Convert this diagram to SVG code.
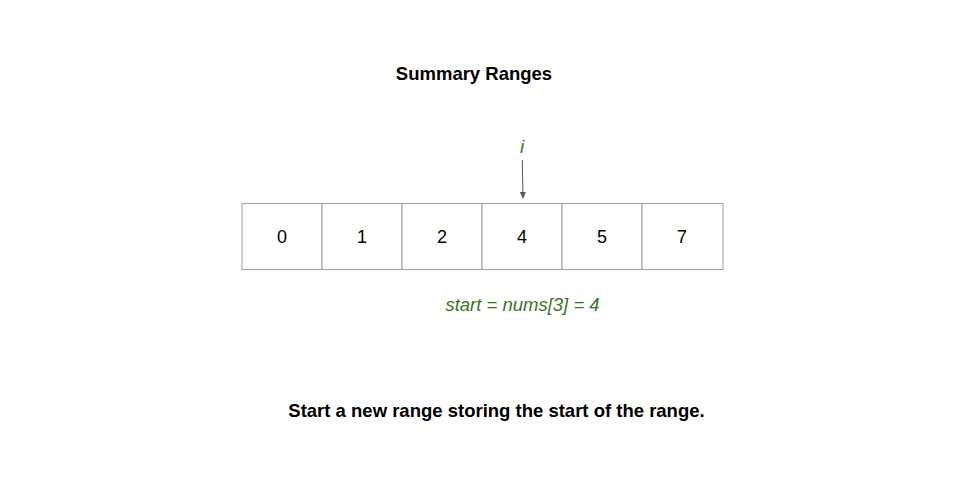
<svg xmlns="http://www.w3.org/2000/svg" width="960" height="480" viewBox="0 0 960 480">
<style>
.cell{fill:#fff;stroke:#9e9e9e;stroke-width:1}
.num{font-family:"Liberation Sans",Arial,sans-serif;font-size:18px;fill:#000;text-anchor:middle}
.bold{font-family:"Liberation Sans",Arial,sans-serif;font-size:18.5px;font-weight:bold;fill:#000;text-anchor:middle}
.green{font-family:"Liberation Sans",Arial,sans-serif;font-style:italic;fill:#38761d;text-anchor:middle}
</style>
<defs>
<marker id="ah" markerWidth="8" markerHeight="8" refX="6" refY="4" orient="auto" markerUnits="userSpaceOnUse">
<path d="M0,1 L7,4 L0,7 Z" fill="#595959"/>
</marker>
</defs>
<rect width="960" height="480" fill="#fff"/>
<text class="bold" x="474" y="80">Summary Ranges</text>
<g id="cell0"><rect class="cell" x="242" y="203.5" width="80" height="66"/><text class="num" x="282" y="243">0</text></g>
<g id="cell1"><rect class="cell" x="322" y="203.5" width="80" height="66"/><text class="num" x="362" y="243">1</text></g>
<g id="cell2"><rect class="cell" x="402" y="203.5" width="80" height="66"/><text class="num" x="442" y="243">2</text></g>
<g id="cell3"><rect class="cell" x="482" y="203.5" width="80" height="66"/><text class="num" x="522" y="243">4</text></g>
<g id="cell4"><rect class="cell" x="562" y="203.5" width="80" height="66"/><text class="num" x="602" y="243">5</text></g>
<g id="cell5"><rect class="cell" x="642" y="203.5" width="81" height="66"/><text class="num" x="682" y="243">7</text></g>
<g id="pointer"><text class="green" x="522" y="153" font-size="19">i</text></g>
<g id="connectors">
<line x1="522.3" y1="160" x2="523" y2="198" stroke="#595959" stroke-width="1" marker-end="url(#ah)"/>
</g>
<text class="green" x="522.5" y="311" font-size="18.5">start = nums[3] = 4</text>
<text class="bold" x="496.5" y="417">Start a new range storing the start of the range.</text>
</svg>
